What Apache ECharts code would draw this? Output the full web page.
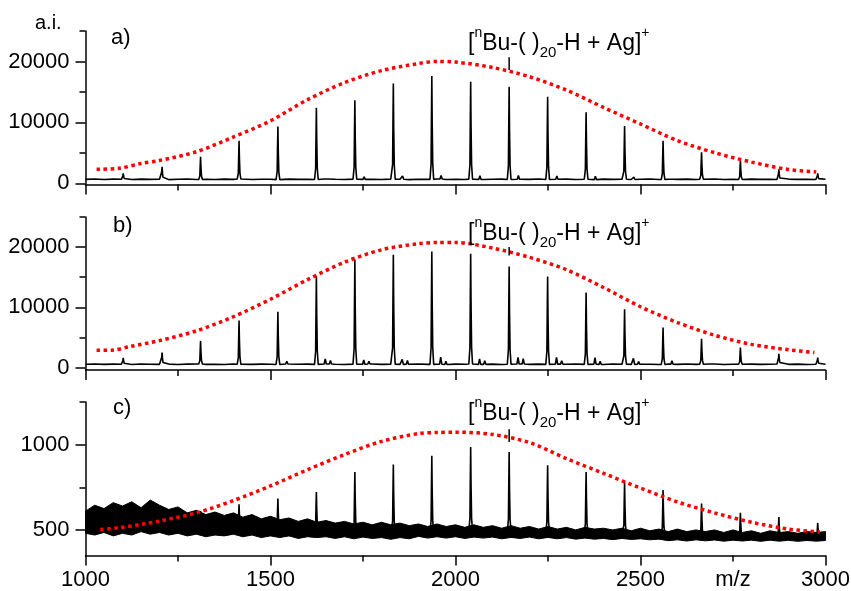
<!DOCTYPE html>
<html><head><meta charset="utf-8">
<script src="https://cdn.jsdelivr.net/npm/echarts@6/dist/echarts.min.js"></script>
<style>html,body{margin:0;padding:0;background:#fff}#c{width:851px;height:591px}</style>
</head><body><div id="c"></div>
<script>
// ---- data ----
const peakMz = [1102,1207,1311,1415,1520,1624,1728,1832,1936,2041,2145,2249,2353,2457,2561,2665,2770,2874,2979];
const peakA = [1640,2720,4370,6990,9340,12400,13650,16400,17600,16660,15840,14200,11640,9400,6990,5080,3700,2300,1640];
const satA1 = [0,0,0,0,0,280,440,550,600,650,600,550,550,380,270,0,0,0,0];
const peakB = [1610,2490,4430,7810,9250,15120,17890,18720,19270,18890,16780,15120,12460,9700,6640,4770,3320,2280,1660];
const satB1 = [0,0,0,0,450,830,720,830,1160,890,1100,1100,1100,1000,550,330,0,0,0];
const satB2 = [0,0,0,0,0,610,440,600,550,610,900,550,550,440,0,0,0,0,0];
const peakC = [null,null,610,650,684,722,840,884,935,986,957,879,840,785,734,655,600,576,541];

// baselines, one value every 25 m/z from 1000 to 3000
const baseA = [640,700,620,680,650,610,690,640,670, 600,660,700,630,650,610,680,640,700,
  620,660,650,600,690,640,670,620,700, 650,610,680,640,660,620,690,650,600,
  670,640,700,620,660,630,690,610,650, 680,620,660,640,700,610,650,680,630,
  660,600,690,640,670,620,650,700,610, 660,640,680,620,650,700,630,660,610,
  680,640,650,620,690,640,660,610,650];
const baseB = [560,600,530,580,550,520,590,560,540, 580,520,570,600,540,560,510,590,550,
  530,580,560,520,600,550,570,530,590, 560,520,580,550,600,530,570,540,560,
  590,530,560,520,580,550,600,540,570, 520,560,590,540,570,530,580,550,600,
  540,570,520,590,560,530,580,550,520, 570,540,600,530,560,590,520,560,550,
  580,530,560,600,540,570,520,560,550];
const noiseUpperC = [610,645,625,660,640,665,630,675,645, 620,635,600,615,590,605,585,600,575,
  590,565,580,560,570,550,565,545,555, 540,550,535,545,530,545,530,540,525,
  535,520,535,520,530,515,530,515,525, 510,525,510,520,505,520,505,515,500,
  515,505,510,500,510,495,510,495,505, 490,505,490,500,490,500,485,500,485,
  495,480,495,485,490,480,490,485,490];
const noiseLowerC = [480,470,485,465,480,470,490,475,485, 470,480,465,475,460,470,465,475,460,
  470,455,465,455,465,450,460,455,460, 450,460,448,458,450,455,445,455,448,
  462,452,460,452,460,450,458,452,458, 448,456,450,458,448,456,448,455,446,
  452,446,450,443,450,444,448,442,446, 437,442,435,442,436,441,434,440,435,
  440,433,440,434,439,433,438,434,438];

// red envelope curves
const redAx = [1030,1090,1150,1200,1300,1400,1500,1600,1700,1800,1900,1950,2000,2100,2200,2300,2400,2500,2600,2700,2800,2900,2975];
const redAy = [2300,2450,3250,3750,5180,7600,10250,13720,16520,18500,19660,20000,19900,19020,17500,15300,12450,9730,7000,5030,3480,2260,1850];
const redBx = [1030,1070,1120,1200,1300,1400,1500,1600,1700,1800,1900,1950,2000,2100,2200,2300,2400,2500,2600,2700,2800,2900,2970];
const redBy = [2880,2880,3490,4480,6100,8450,11350,14600,17500,19550,20580,20760,20770,19850,18300,16250,13300,10100,7480,5380,3850,2960,2490];
const redCx = [1040,1090,1150,1200,1300,1400,1500,1600,1700,1800,1900,1950,2000,2100,2200,2300,2400,2500,2600,2700,2800,2900,2985];
const redCy = [502,513,532,552,600,672,758,853,942,1019,1065,1071,1073,1060,1012,918,832,745,664,600,545,505,488];

const markerMz = 2145;
const markerA = [18600, 20700];
const markerB = [18600, 20000];
const markerC = [1015, 1090];

const xLabelValues = [1000,1500,2000,2500,2750,3000];
const xLabelTexts = ['1000','1500','2000','2500','m/z','3000'];
const yMajorAB = [0,10000,20000];
const yMinorAB = [5000,15000,25000];
const yMajorC = [500,1000];
const yMinorC = [750,1250];
const panelTags = ['a)','b)','c)'];

// ---- build ----
const FONT = "'Liberation Sans', Arial, sans-serif";
const shapeDx = [-5,-2,-1,0,1,2.5,5];
const shapeF = [0,0.15,0.6,1,0.55,0.15,0];

function buildSpectrum(base, heights, sats) {
  const pts = [];
  const occ = [];
  heights.forEach((h,i)=>{ if (h != null) occ.push([peakMz[i]-6, peakMz[i]+6]); });
  sats.forEach(s => s.vals.forEach((v,i)=>{ if (v) occ.push([peakMz[i]+s.dx-4, peakMz[i]+s.dx+4]); }));
  base.forEach((v,i)=>{ const x = 1000+25*i; if (!occ.some(r => x>=r[0] && x<=r[1])) pts.push([x, v]); });
  const baseAt = m => base[Math.min(base.length-1, Math.max(0, Math.round((m-1000)/25)))];
  heights.forEach((h,i)=>{
    if (h == null) return;
    const m = peakMz[i], b = baseAt(m);
    shapeDx.forEach((d,k)=>pts.push([m+d, b+(h-b)*shapeF[k]]));
  });
  sats.forEach(s => s.vals.forEach((v,i)=>{
    if (!v) return;
    const m = peakMz[i]+s.dx, b = baseAt(m);
    pts.push([m-3,b],[m,b+v],[m+3,b]);
  }));
  pts.sort((p,q)=>p[0]-q[0]);
  return pts;
}
const midC = noiseUpperC.map((u,i)=>(u+noiseLowerC[i])/2);
const specA = buildSpectrum(baseA, peakA, [{dx:25, vals:satA1}]);
const specB = buildSpectrum(baseB, peakB, [{dx:24, vals:satB1},{dx:38, vals:satB2}]);
const specC = buildSpectrum(midC, peakC, []);
const xs = noiseLowerC.map((_,i)=>1000+25*i);

const grids = [
  {left:85.5, top:31, width:740, height:153.5},
  {left:85.5, top:217, width:740, height:153},
  {left:85.5, top:402, width:740, height:153.5}
];
const AX = {color:'#000', width:1.5};
function xAxisFor(gi, withLabels) {
  return {
    type:'value', gridIndex:gi, min:1000, max:3000, interval:500,
    axisLine:{show:true, onZero:false, lineStyle:AX},
    axisTick:{show:true, length:10, lineStyle:AX, customValues:[1000,1500,2000,2500,3000]},
    minorTick:{show:true, splitNumber:2, length:6, lineStyle:AX},
    splitLine:{show:false}, minorSplitLine:{show:false},
    axisLabel: withLabels ? {
      show:true, customValues:xLabelValues, margin:13, color:'#000', fontSize:22, fontFamily:FONT,
      formatter: v => xLabelTexts[xLabelValues.indexOf(v)]
    } : {show:false}
  };
}
function yMain(gi, min, max, major) {
  return {
    type:'value', gridIndex:gi, min:min, max:max,
    axisLine:{show:true, onZero:false, lineStyle:AX},
    axisTick:{show:true, length:10, lineStyle:AX, customValues:major},
    axisLabel:{show:true, customValues:major, margin:16, color:'#000', fontSize:22, fontFamily:FONT,
      formatter: v => String(v)},
    splitLine:{show:false}
  };
}
function yMinor(gi, min, max, minor) {
  return {
    type:'value', gridIndex:gi, min:min, max:max, position:'left',
    axisLine:{show:false, onZero:false},
    axisTick:{show:true, length:6, lineStyle:AX, customValues:minor},
    axisLabel:{show:false}, splitLine:{show:false}
  };
}
function lineSeries(gi, data, style, z) {
  return {type:'line', xAxisIndex:gi, yAxisIndex:gi, data:data, showSymbol:false, symbol:'none',
    lineStyle:style, z:z, animation:false, silent:true};
}
function redSeries(gi, xArr, yArr) {
  const s = lineSeries(gi, xArr.map((x,i)=>[x, yArr[i]]),
    {color:'#ff0000', width:3.5, type:[3.5,3.5], cap:'butt'}, 5);
  s.smooth = 0.3;
  return s;
}
const blackLine = {color:'#000', width:1.5};

// noise band of panel c as a polygon through the axis scales
const bandSeries = {
  type:'custom', xAxisIndex:2, yAxisIndex:2, z:2, silent:true, animation:false,
  data: xs.map((x,i)=>[x, noiseLowerC[i], noiseUpperC[i]]),
  encode:{x:0, y:[1,2]},
  renderItem: function(params, api) {
    if (params.dataIndex !== 0) return null;
    const pts = [];
    for (let i = 0; i < xs.length; i++) pts.push(api.coord([xs[i], noiseUpperC[i]]));
    for (let i = xs.length-1; i >= 0; i--) pts.push(api.coord([xs[i], noiseLowerC[i]]));
    return {type:'polygon', shape:{points:pts}, style:{fill:'#000', stroke:'#000', lineWidth:1}};
  }
};

const series = [
  lineSeries(0, specA, {color:'#000', width:1.6}, 3),
  lineSeries(1, specB, {color:'#000', width:1.6}, 3),
  bandSeries,
  lineSeries(2, specC, {color:'#000', width:1.6}, 3),
  redSeries(0, redAx, redAy),
  redSeries(1, redBx, redBy),
  redSeries(2, redCx, redCy),
  lineSeries(0, [[markerMz, markerA[0]],[markerMz, markerA[1]]], blackLine, 6),
  lineSeries(1, [[markerMz, markerB[0]],[markerMz, markerB[1]]], blackLine, 6),
  lineSeries(2, [[markerMz, markerC[0]],[markerMz, markerC[1]]], blackLine, 6)
];

const formulaRich = {
  m:{fontSize:23, lineHeight:34, verticalAlign:'middle', fontFamily:FONT, fill:'#000'},
  sup:{fontSize:14, lineHeight:14, verticalAlign:'top', fontFamily:FONT, fill:'#000'},
  sub:{fontSize:15, lineHeight:18, verticalAlign:'bottom', fontFamily:FONT, fill:'#000'}
};
const formulaText = '{m|[}{sup|n}{m|Bu-( )}{sub|20}{m|-H + Ag]}{sup|+}';
const formulaY = [43.3, 233.3, 413.3];
const tagY = [38.3, 225.8, 408.3];
const tagX = [111, 113, 113];

const graphic = [
  {type:'text', left:35, top:13, style:{text:'a.i.', fontSize:20, fontFamily:FONT, fill:'#000'}}
];
panelTags.forEach((t,i)=>{
  graphic.push({type:'text', x:tagX[i], y:tagY[i], style:{text:t, fontSize:22, fontFamily:FONT, fill:'#000', verticalAlign:'middle'}});
  graphic.push({type:'text', x:468, y:formulaY[i], z:10, style:{text:formulaText, rich:formulaRich, fontSize:23, fontFamily:FONT, fill:'#000', verticalAlign:'middle'}});
});

const chart = echarts.init(document.getElementById('c'), null, {renderer:'canvas'});
chart.setOption({
  animation:false,
  backgroundColor:'#fff',
  textStyle:{fontFamily:FONT},
  grid: grids.map(g=>Object.assign({containLabel:false, outerBoundsMode:'none'}, g)),
  xAxis:[xAxisFor(0,false), xAxisFor(1,false), xAxisFor(2,true)],
  yAxis:[
    yMain(0,-200,25000,yMajorAB), yMain(1,-400,25000,yMajorAB), yMain(2,350,1250,yMajorC),
    yMinor(0,-200,25000,yMinorAB), yMinor(1,-400,25000,yMinorAB), yMinor(2,350,1250,yMinorC)
  ],
  series:series,
  graphic:graphic
});
</script></body></html>
